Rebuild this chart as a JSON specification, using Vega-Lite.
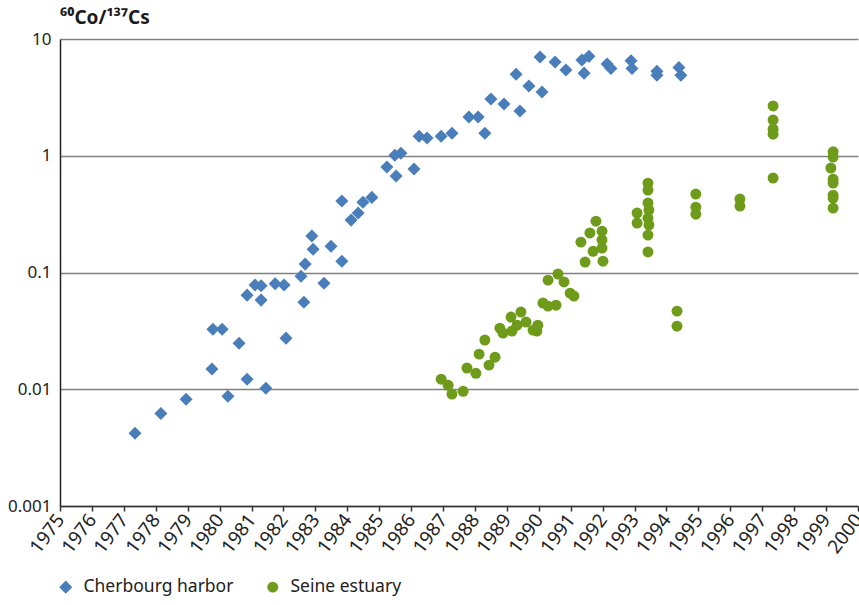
{
  "$schema": "https://vega.github.io/schema/vega-lite/v6.json",
  "width": 798,
  "height": 467,
  "autosize": {"type": "none"},
  "padding": {"left": 60, "top": 39, "right": 1, "bottom": 99},
  "config": {
    "font": "Noto Sans",
    "view": {"stroke": null},
    "axis": {"labelColor": "#222222", "labelFont": "Noto Sans"}
  },
  "title": {
    "text": "⁶⁰Co/¹³⁷Cs",
    "anchor": "start",
    "frame": "group",
    "fontSize": 19,
    "fontWeight": "bold",
    "offset": 2,
    "color": "#1a1a1a"
  },
  "data": {
    "values": [
      {"series": "Cherbourg harbor", "year": 1977.35, "ratio": 0.0042},
      {"series": "Cherbourg harbor", "year": 1978.16, "ratio": 0.0062},
      {"series": "Cherbourg harbor", "year": 1978.95, "ratio": 0.0082},
      {"series": "Cherbourg harbor", "year": 1979.76, "ratio": 0.0149},
      {"series": "Cherbourg harbor", "year": 1979.79, "ratio": 0.0327},
      {"series": "Cherbourg harbor", "year": 1980.08, "ratio": 0.0327},
      {"series": "Cherbourg harbor", "year": 1980.26, "ratio": 0.0087},
      {"series": "Cherbourg harbor", "year": 1980.61, "ratio": 0.0248},
      {"series": "Cherbourg harbor", "year": 1980.86, "ratio": 0.064},
      {"series": "Cherbourg harbor", "year": 1980.86, "ratio": 0.0122},
      {"series": "Cherbourg harbor", "year": 1981.11, "ratio": 0.078},
      {"series": "Cherbourg harbor", "year": 1981.3, "ratio": 0.077},
      {"series": "Cherbourg harbor", "year": 1981.3, "ratio": 0.058},
      {"series": "Cherbourg harbor", "year": 1981.45, "ratio": 0.0102},
      {"series": "Cherbourg harbor", "year": 1981.74, "ratio": 0.08},
      {"series": "Cherbourg harbor", "year": 1982.02, "ratio": 0.078},
      {"series": "Cherbourg harbor", "year": 1982.08, "ratio": 0.0274},
      {"series": "Cherbourg harbor", "year": 1982.55, "ratio": 0.093},
      {"series": "Cherbourg harbor", "year": 1982.68, "ratio": 0.118},
      {"series": "Cherbourg harbor", "year": 1982.64, "ratio": 0.0557},
      {"series": "Cherbourg harbor", "year": 1982.89, "ratio": 0.205},
      {"series": "Cherbourg harbor", "year": 1982.93, "ratio": 0.158},
      {"series": "Cherbourg harbor", "year": 1983.27, "ratio": 0.081},
      {"series": "Cherbourg harbor", "year": 1983.49, "ratio": 0.168},
      {"series": "Cherbourg harbor", "year": 1983.83, "ratio": 0.125},
      {"series": "Cherbourg harbor", "year": 1983.83, "ratio": 0.41},
      {"series": "Cherbourg harbor", "year": 1984.12, "ratio": 0.281},
      {"series": "Cherbourg harbor", "year": 1984.34, "ratio": 0.323},
      {"series": "Cherbourg harbor", "year": 1984.49, "ratio": 0.4},
      {"series": "Cherbourg harbor", "year": 1984.77, "ratio": 0.44},
      {"series": "Cherbourg harbor", "year": 1985.24, "ratio": 0.8},
      {"series": "Cherbourg harbor", "year": 1985.49, "ratio": 1.01},
      {"series": "Cherbourg harbor", "year": 1985.53, "ratio": 0.67},
      {"series": "Cherbourg harbor", "year": 1985.68, "ratio": 1.05},
      {"series": "Cherbourg harbor", "year": 1986.09, "ratio": 0.77},
      {"series": "Cherbourg harbor", "year": 1986.25, "ratio": 1.47},
      {"series": "Cherbourg harbor", "year": 1986.5, "ratio": 1.42},
      {"series": "Cherbourg harbor", "year": 1986.94, "ratio": 1.47},
      {"series": "Cherbourg harbor", "year": 1987.28, "ratio": 1.56},
      {"series": "Cherbourg harbor", "year": 1987.81, "ratio": 2.15},
      {"series": "Cherbourg harbor", "year": 1988.1, "ratio": 2.15},
      {"series": "Cherbourg harbor", "year": 1988.31, "ratio": 1.56},
      {"series": "Cherbourg harbor", "year": 1988.5, "ratio": 3.06},
      {"series": "Cherbourg harbor", "year": 1988.91, "ratio": 2.77},
      {"series": "Cherbourg harbor", "year": 1989.29, "ratio": 5.0},
      {"series": "Cherbourg harbor", "year": 1989.41, "ratio": 2.42},
      {"series": "Cherbourg harbor", "year": 1989.69, "ratio": 3.95},
      {"series": "Cherbourg harbor", "year": 1990.04, "ratio": 7.0},
      {"series": "Cherbourg harbor", "year": 1990.1, "ratio": 3.51},
      {"series": "Cherbourg harbor", "year": 1990.51, "ratio": 6.36},
      {"series": "Cherbourg harbor", "year": 1990.85, "ratio": 5.42},
      {"series": "Cherbourg harbor", "year": 1991.35, "ratio": 6.6},
      {"series": "Cherbourg harbor", "year": 1991.42, "ratio": 5.1},
      {"series": "Cherbourg harbor", "year": 1991.57, "ratio": 7.1},
      {"series": "Cherbourg harbor", "year": 1992.14, "ratio": 6.1},
      {"series": "Cherbourg harbor", "year": 1992.26, "ratio": 5.6},
      {"series": "Cherbourg harbor", "year": 1992.89, "ratio": 6.5},
      {"series": "Cherbourg harbor", "year": 1992.92, "ratio": 5.6},
      {"series": "Cherbourg harbor", "year": 1993.7, "ratio": 5.3},
      {"series": "Cherbourg harbor", "year": 1993.7, "ratio": 4.9},
      {"series": "Cherbourg harbor", "year": 1994.39, "ratio": 5.7},
      {"series": "Cherbourg harbor", "year": 1994.45, "ratio": 4.9},
      {"series": "Seine estuary", "year": 1986.94, "ratio": 0.0122},
      {"series": "Seine estuary", "year": 1987.16, "ratio": 0.0108},
      {"series": "Seine estuary", "year": 1987.28, "ratio": 0.0091},
      {"series": "Seine estuary", "year": 1987.63, "ratio": 0.0096},
      {"series": "Seine estuary", "year": 1987.75, "ratio": 0.0152},
      {"series": "Seine estuary", "year": 1988.03, "ratio": 0.0137},
      {"series": "Seine estuary", "year": 1988.13, "ratio": 0.02},
      {"series": "Seine estuary", "year": 1988.31, "ratio": 0.0264},
      {"series": "Seine estuary", "year": 1988.44, "ratio": 0.0161},
      {"series": "Seine estuary", "year": 1988.63, "ratio": 0.0188},
      {"series": "Seine estuary", "year": 1988.78, "ratio": 0.0334},
      {"series": "Seine estuary", "year": 1988.88, "ratio": 0.0303},
      {"series": "Seine estuary", "year": 1989.13, "ratio": 0.0415},
      {"series": "Seine estuary", "year": 1989.16, "ratio": 0.0315},
      {"series": "Seine estuary", "year": 1989.32, "ratio": 0.0354},
      {"series": "Seine estuary", "year": 1989.44, "ratio": 0.0458},
      {"series": "Seine estuary", "year": 1989.6, "ratio": 0.0376},
      {"series": "Seine estuary", "year": 1989.82, "ratio": 0.0321},
      {"series": "Seine estuary", "year": 1989.94, "ratio": 0.0315},
      {"series": "Seine estuary", "year": 1989.97, "ratio": 0.0354},
      {"series": "Seine estuary", "year": 1990.13, "ratio": 0.0547},
      {"series": "Seine estuary", "year": 1990.29, "ratio": 0.0515},
      {"series": "Seine estuary", "year": 1990.54, "ratio": 0.0525},
      {"series": "Seine estuary", "year": 1990.29, "ratio": 0.086},
      {"series": "Seine estuary", "year": 1990.6, "ratio": 0.097},
      {"series": "Seine estuary", "year": 1990.79, "ratio": 0.083},
      {"series": "Seine estuary", "year": 1990.98, "ratio": 0.0666},
      {"series": "Seine estuary", "year": 1991.1, "ratio": 0.0628},
      {"series": "Seine estuary", "year": 1991.32, "ratio": 0.182},
      {"series": "Seine estuary", "year": 1991.45, "ratio": 0.123},
      {"series": "Seine estuary", "year": 1991.6, "ratio": 0.218},
      {"series": "Seine estuary", "year": 1991.7, "ratio": 0.152},
      {"series": "Seine estuary", "year": 1991.79, "ratio": 0.275},
      {"series": "Seine estuary", "year": 1991.98, "ratio": 0.226},
      {"series": "Seine estuary", "year": 1991.98, "ratio": 0.19},
      {"series": "Seine estuary", "year": 1991.98, "ratio": 0.162},
      {"series": "Seine estuary", "year": 1992.01, "ratio": 0.125},
      {"series": "Seine estuary", "year": 1993.08, "ratio": 0.323},
      {"series": "Seine estuary", "year": 1993.08, "ratio": 0.265},
      {"series": "Seine estuary", "year": 1993.42, "ratio": 0.583},
      {"series": "Seine estuary", "year": 1993.42, "ratio": 0.508},
      {"series": "Seine estuary", "year": 1993.42, "ratio": 0.394},
      {"series": "Seine estuary", "year": 1993.45, "ratio": 0.343},
      {"series": "Seine estuary", "year": 1993.42, "ratio": 0.292},
      {"series": "Seine estuary", "year": 1993.45, "ratio": 0.255},
      {"series": "Seine estuary", "year": 1993.42, "ratio": 0.209},
      {"series": "Seine estuary", "year": 1993.42, "ratio": 0.15},
      {"series": "Seine estuary", "year": 1994.33, "ratio": 0.0467},
      {"series": "Seine estuary", "year": 1994.33, "ratio": 0.0347},
      {"series": "Seine estuary", "year": 1994.92, "ratio": 0.47},
      {"series": "Seine estuary", "year": 1994.92, "ratio": 0.363},
      {"series": "Seine estuary", "year": 1994.92, "ratio": 0.316},
      {"series": "Seine estuary", "year": 1996.3, "ratio": 0.426},
      {"series": "Seine estuary", "year": 1996.3, "ratio": 0.371},
      {"series": "Seine estuary", "year": 1997.34, "ratio": 2.67},
      {"series": "Seine estuary", "year": 1997.34, "ratio": 2.02},
      {"series": "Seine estuary", "year": 1997.34, "ratio": 1.69},
      {"series": "Seine estuary", "year": 1997.34, "ratio": 1.53},
      {"series": "Seine estuary", "year": 1997.34, "ratio": 0.644},
      {"series": "Seine estuary", "year": 1999.22, "ratio": 1.08},
      {"series": "Seine estuary", "year": 1999.22, "ratio": 0.975},
      {"series": "Seine estuary", "year": 1999.15, "ratio": 0.785},
      {"series": "Seine estuary", "year": 1999.22, "ratio": 0.63},
      {"series": "Seine estuary", "year": 1999.22, "ratio": 0.583},
      {"series": "Seine estuary", "year": 1999.22, "ratio": 0.46},
      {"series": "Seine estuary", "year": 1999.22, "ratio": 0.434},
      {"series": "Seine estuary", "year": 1999.22, "ratio": 0.356}
    ]
  },
  "mark": {"type": "point", "filled": true, "opacity": 1, "strokeWidth": 0},
  "encoding": {
    "x": {
      "field": "year",
      "type": "quantitative",
      "scale": {"domain": [1975, 2000], "nice": false, "zero": false},
      "axis": {
        "title": null,
        "values": [1975, 1976, 1977, 1978, 1979, 1980, 1981, 1982, 1983, 1984, 1985, 1986, 1987, 1988, 1989, 1990, 1991, 1992, 1993, 1994, 1995, 1996, 1997, 1998, 1999, 2000],
        "format": "d",
        "labelAngle": -53,
        "labelAlign": "right",
        "labelBaseline": "middle",
        "labelFontSize": 19,
        "labelPadding": 5,
        "labelOverlap": false,
        "labelFlush": false,
        "grid": false,
        "tickSize": 5,
        "tickColor": "#333333",
        "tickWidth": 1.5,
        "domainColor": "#333333",
        "domainWidth": 1.5
      }
    },
    "y": {
      "field": "ratio",
      "type": "quantitative",
      "scale": {"type": "log", "domain": [0.001, 10], "nice": false},
      "axis": {
        "title": null,
        "values": [0.001, 0.01, 0.1, 1, 10],
        "format": "~g",
        "labelFontSize": 17,
        "labelPadding": 9,
        "ticks": false,
        "grid": true,
        "gridColor": "#808080",
        "gridWidth": 1.5,
        "domainColor": "#222222",
        "domainWidth": 1.5
      }
    },
    "color": {
      "field": "series",
      "type": "nominal",
      "scale": {"domain": ["Cherbourg harbor", "Seine estuary"], "range": ["#4a7ebb", "#6e9b19"]},
      "legend": {
        "title": null,
        "orient": "none",
        "direction": "horizontal",
        "legendX": -3,
        "legendY": 539,
        "labelFontSize": 17.5,
        "labelColor": "#222222",
        "labelOffset": 9,
        "columnPadding": 30
      }
    },
    "shape": {
      "field": "series",
      "type": "nominal",
      "scale": {"domain": ["Cherbourg harbor", "Seine estuary"], "range": ["diamond", "circle"]}
    },
    "size": {
      "field": "series",
      "type": "nominal",
      "scale": {"domain": ["Cherbourg harbor", "Seine estuary"], "range": [170, 120]}
    }
  }
}
